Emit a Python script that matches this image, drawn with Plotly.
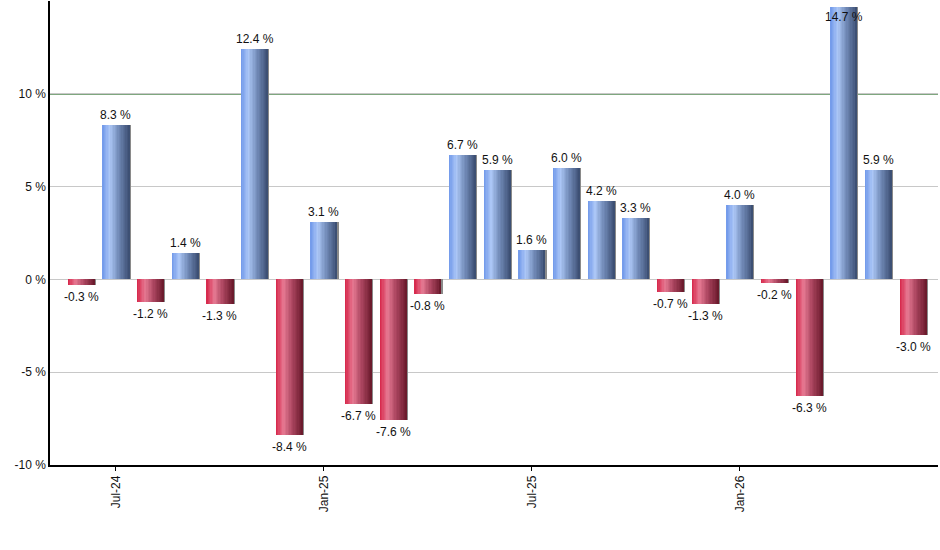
import plotly.graph_objects as go

months = ["Jun-24", "Jul-24", "Aug-24", "Sep-24", "Oct-24", "Nov-24", "Dec-24",
          "Jan-25", "Feb-25", "Mar-25", "Apr-25", "May-25", "Jun-25",
          "Jul-25", "Aug-25", "Sep-25", "Oct-25", "Nov-25", "Dec-25",
          "Jan-26", "Feb-26", "Mar-26", "Apr-26", "May-26", "Jun-26"]
returns = [-0.3, 8.3, -1.2, 1.4, -1.3, 12.4, -8.4, 3.1, -6.7, -7.6, -0.8, 6.7, 5.9,
           1.6, 6.0, 4.2, 3.3, -0.7, -1.3, 4.0, -0.2, -6.3, 14.7, 5.9, -3.0]
tick_months = ["Jul-24", "Jan-25", "Jul-25", "Jan-26"]
y_ticks = [-10, -5, 0, 5, 10, 15]
y_ticktext = ["-10 %", "-5 %", "0 %", "5 %", "10 %", ""]
ref_level = 10
y_range = [-10, 15]

xs = list(range(len(months)))
BAR_W = 0.78
N = 20

def lerp(c1, c2, t):
    return tuple(round(a + (b - a) * t) for a, b in zip(c1, c2))

def grad(stops, t):
    for (t0, c0), (t1, c1) in zip(stops, stops[1:]):
        if t0 <= t <= t1:
            return lerp(c0, c1, (t - t0) / (t1 - t0) if t1 > t0 else 0)
    return stops[-1][1]

blue_stops = [(0.0, (112, 152, 234)), (0.28, (172, 199, 246)), (0.6, (112, 137, 182)), (1.0, (58, 76, 112))]
red_stops = [(0.0, (214, 36, 72)), (0.3, (230, 122, 147)), (0.6, (172, 70, 96)), (1.0, (104, 24, 42))]

def hexc(c):
    return "#%02x%02x%02x" % c

fig = go.Figure()

# shadow
fig.add_trace(go.Bar(x=xs, y=returns, width=BAR_W, offset=-BAR_W / 2 + 0.035,
                     marker=dict(color="#8a8a8a", line=dict(width=0)),
                     hoverinfo="skip", showlegend=False))

sw = BAR_W / N
for k in range(N):
    t = (k + 0.5) / N
    cols = [hexc(grad(blue_stops, t)) if v >= 0 else hexc(grad(red_stops, t)) for v in returns]
    w = min(sw * 3, BAR_W - k * sw)
    fig.add_trace(go.Bar(x=xs, y=returns, width=w, offset=-BAR_W / 2 + k * sw,
                         marker=dict(color=cols, line=dict(width=0)),
                         hoverinfo="skip", showlegend=False))

top = y_range[1]
for x, v in zip(xs, returns):
    if v >= 0 and v > top - 1:
        shift = -10
    elif v >= 0:
        shift = 10
    else:
        shift = -12
    fig.add_annotation(x=x, y=v, text=f"{v:.1f} %", showarrow=False, yshift=shift,
                       xanchor="center", yanchor="middle",
                       font=dict(family="Liberation Sans, Arial", size=12, color="#111111"))

fig.add_shape(type="line", xref="paper", x0=0, x1=1, yref="y", y0=ref_level, y1=ref_level,
              line=dict(color="#005000", width=1.6), layer="below")

fig.update_layout(
    width=940, height=550,
    margin=dict(l=50, r=2, t=1, b=85),
    plot_bgcolor="white", paper_bgcolor="white",
    barmode="overlay", bargap=0,
    font=dict(family="Liberation Sans, Arial", size=12, color="#111111"),
    xaxis=dict(range=[-0.9, 24.72], showgrid=False, zeroline=False,
               showline=True, linecolor="black", linewidth=1.5,
               ticks="outside", ticklen=4, tickcolor="black",
               tickvals=[months.index(m) for m in tick_months], ticktext=tick_months,
               tickangle=-90),
    yaxis=dict(range=y_range, tickvals=y_ticks, ticktext=y_ticktext,
               showgrid=True, gridcolor="#c8c8c8", gridwidth=1, zeroline=False,
               showline=True, linecolor="black", linewidth=1.5, ticks=""),
)

fig.write_html("out.html")
